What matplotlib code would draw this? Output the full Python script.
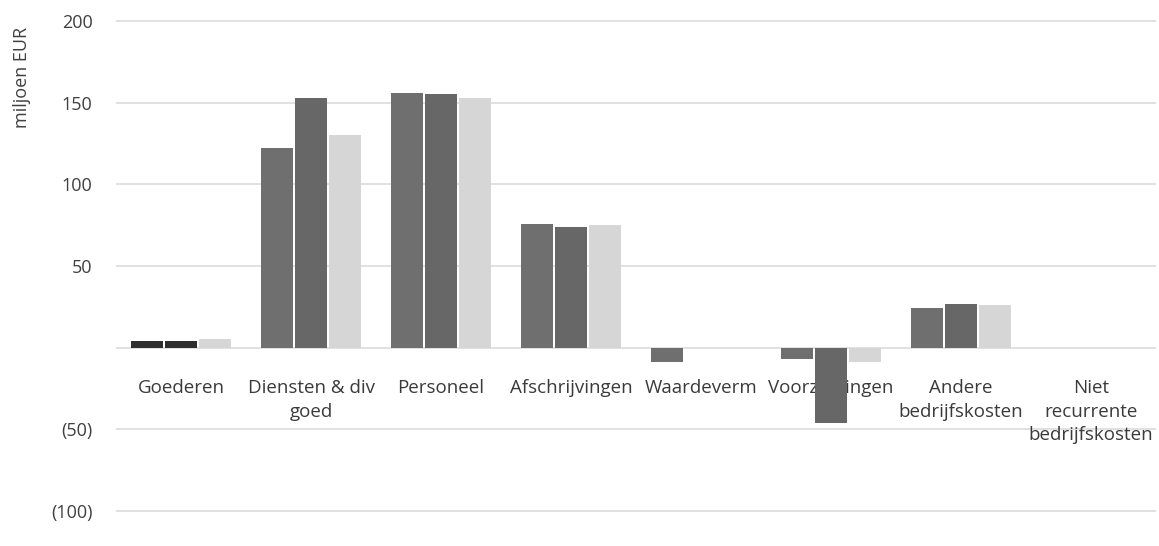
import matplotlib
matplotlib.use("Agg")
import matplotlib.pyplot as plt
import matplotlib.transforms as mtransforms
from matplotlib.ticker import FuncFormatter, FixedLocator
import numpy as np

# Cost categories and three yearly series (miljoen EUR)
categories = ["Goederen", "Diensten & div\ngoed", "Personeel", "Afschrijvingen",
              "Waardeverm", "Voorzieningen", "Andere\nbedrijfskosten",
              "Niet\nrecurrente\nbedrijfskosten"]
series_a = [4, 122, 156, 76, -9, -7, 24, 0]
series_b = [4, 153, 155, 74, 0, -46, 27, 0]
series_c = [5, 130, 153, 75, 0, -9, 26, 0]
y_ticks = [-100, -50, 0, 50, 100, 150, 200]

plt.rcParams["font.family"] = ["Open Sans", "DejaVu Sans"]

fig = plt.figure(figsize=(11.59, 5.46), dpi=100)
ax = fig.add_axes([0.1001, 0.0491, 0.8973, 0.9275])

x = np.arange(len(categories))
width = 0.24
offset = 0.262
colors_a = ["#2e2e2e"] + ["#6f6f6f"] * (len(categories) - 1)
colors_b = ["#2e2e2e"] + ["#676767"] * (len(categories) - 1)
ax.bar(x - offset, series_a, width, color=colors_a, zorder=2)
ax.bar(x, series_b, width, color=colors_b, zorder=2)
ax.bar(x + offset, series_c, width, color="#d6d6d6", zorder=2)

ax.set_xlim(-0.5, len(categories) - 0.5)
ax.set_ylim(-105, 205)

# horizontal gridlines
for v in y_ticks:
    ax.axhline(v, color="#dcdcdc", lw=1.2, zorder=0)

ax.yaxis.set_major_locator(FixedLocator(y_ticks))
ax.yaxis.set_major_formatter(FuncFormatter(
    lambda v, p: "" if v == 0 else (f"({abs(int(v))})" if v < 0 else f"{int(v)}")))
ax.tick_params(axis="y", length=0, pad=17, labelsize=13, labelcolor="#404040")
ax.set_xticks([])
for s in ax.spines.values():
    s.set_visible(False)

# category labels sit just beneath the zero line
trans = mtransforms.offset_copy(ax.transData, fig=fig, x=0, y=-31, units="dots")
for xi, name in zip(x, categories):
    ax.text(xi, 0, name, transform=trans, ha="center", va="top",
            fontsize=13.5, color="#3a3a3a", linespacing=1.42, zorder=1)

fig.text(22 / 1159, 1 - 77 / 546, "miljoen EUR", rotation=90, ha="center",
         va="center", fontsize=13, color="#404040")

fig.savefig("out.png", dpi=100, facecolor="white")
